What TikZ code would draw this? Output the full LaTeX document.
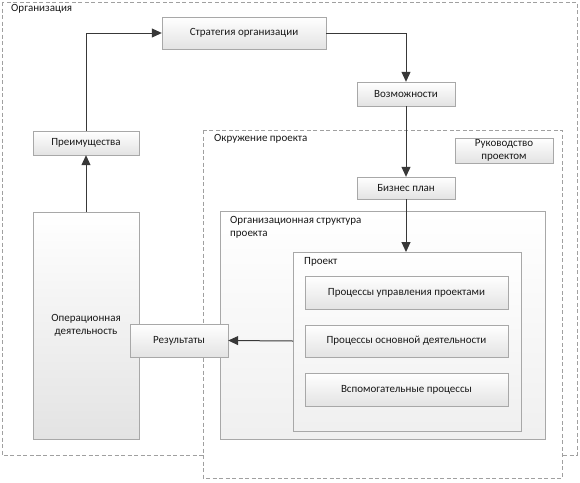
\documentclass[tikz,border=0pt]{standalone}
\usepackage{fontspec}
\setmainfont{Carlito}
\usetikzlibrary{arrows.meta,shadows}
\definecolor{lineC}{HTML}{383838}
\definecolor{boxB}{HTML}{A8A8A8}
\definecolor{dashC}{HTML}{A0A0A0}
\tikzset{
  lbl/.style={font=\fontsize{11}{13}\selectfont, text=black!90},
  box/.style={draw=boxB, top color=white, bottom color=black!11, inner sep=0pt,
    lbl, align=center,
    drop shadow={shadow xshift=1pt, shadow yshift=-1pt, opacity=0.25, fill=black!50}},
  panel/.style={draw=boxB, top color=white, bottom color=black!6},
  zone/.style={draw=dashC, dash pattern=on 4pt off 2.5pt, line width=0.8pt},
  conn/.style={draw=lineC, line width=1pt, -{Triangle[length=10pt,width=9pt]}},
}
\begin{document}
\begin{tikzpicture}[x=1pt,y=-1pt]
\useasboundingbox (0,0) rectangle (580,482);
% zones
\draw[zone] (2,2) rectangle (577,455);
\node[lbl, anchor=north west, inner sep=0pt] (orgl) at (11,4) {Организация};
\draw[zone, fill=white] (203,130) rectangle (562,478);
\node[lbl, anchor=north west, inner sep=0pt] (envl) at (214,134) {Окружение проекта};
% containers
\draw[panel] (220,211) rectangle (545,439);
\node[lbl, anchor=north west, align=left, inner sep=0pt] (osl) at (230,216) {Организационная структура\\проекта};
\draw[panel] (293,252) rectangle (521,431);
\coordinate (projtop) at (406,252);
\coordinate (projleft) at (293,341);
\node[lbl, anchor=north west, inner sep=0pt] (projl) at (304,257) {Проект};
% boxes
\node[box, minimum width=164pt, minimum height=32pt] (strat) at (244,33) {Стратегия организации};
\node[box, minimum width=98pt, minimum height=24pt] (vozm) at (406,94) {Возможности};
\node[box, minimum width=98pt, minimum height=25pt, font=\fontsize{11}{12.5}\selectfont] (ruk) at (504,150.5) {Руководство\\проектом};
\node[box, minimum width=98pt, minimum height=22pt] (biz) at (406,188) {Бизнес план};
\node[box, minimum width=203pt, minimum height=33pt] (p1) at (406.5,292.5) {Процессы управления проектами};
\node[box, minimum width=203pt, minimum height=32pt] (p2) at (406.5,341) {Процессы основной деятельности};
\node[box, minimum width=203pt, minimum height=33pt] (p3) at (406.5,389.5) {Вспомогательные процессы};
\node[box, minimum width=106pt, minimum height=24pt] (pre) at (86,143) {Преимущества};
\node[box, minimum width=106pt, minimum height=227pt] (oper) at (86,325.5) {Операционная\\деятельность};
\node[box, minimum width=98pt, minimum height=33pt] (res) at (179,340.5) {Результаты};
% connectors
\draw[conn] (oper.north) -- (pre.south);
\draw[conn] (pre.north) |- (strat.west);
\draw[conn] (strat.east) -| (vozm.north);
\draw[conn] (vozm.south) -- (biz.north);
\draw[conn] (biz.south) -- (projtop);
\draw[conn] (projleft) -- (res.east);
\end{tikzpicture}
\end{document}
